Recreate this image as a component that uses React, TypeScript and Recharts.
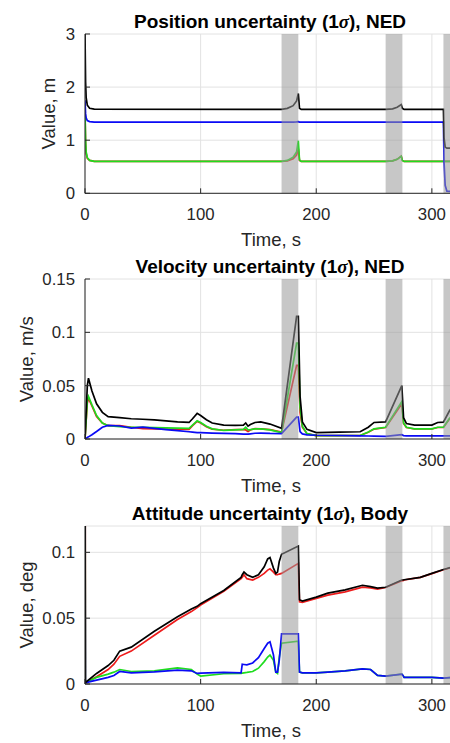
import { LineChart, Line, XAxis, YAxis, CartesianGrid, ReferenceArea } from "recharts";

const FONT = "'Liberation Sans', Arial, Helvetica, sans-serif";
const AXIS = "#262626";

// time ticks shared by all panels
const timeTicks = [0, 100, 200, 300];
// sensor outage windows (gray patches), seconds
const outages = [
    [170, 184.5],
    [260, 274.5],
    [310, 320],
];

// ---- position (m) ----
const posTime = [0, 0.5, 1, 2, 4, 8, 170, 175, 180, 183, 184.5, 185.5, 187, 260, 266, 270, 273.5, 274.5, 276, 310, 310.5, 311.5, 313, 320];
const posNorm = [3.0, 2.1, 1.8, 1.66, 1.6, 1.585, 1.58, 1.6, 1.65, 1.74, 1.88, 1.6, 1.58, 1.58, 1.59, 1.62, 1.67, 1.6, 1.58, 1.58, 1.05, 0.87, 0.85, 0.85];
const posN = [1.5, 0.95, 0.75, 0.66, 0.62, 0.6, 0.6, 0.61, 0.65, 0.72, 0.84, 0.62, 0.6, 0.6, 0.61, 0.64, 0.7, 0.62, 0.6, 0.6, 0.6, 0.6, 0.6, 0.6];
const posE = [1.55, 1.0, 0.78, 0.67, 0.62, 0.6, 0.6, 0.62, 0.68, 0.78, 0.99, 0.63, 0.6, 0.6, 0.61, 0.64, 0.7, 0.62, 0.6, 0.6, 0.6, 0.6, 0.6, 0.6];
const posD = [1.75, 1.5, 1.42, 1.37, 1.35, 1.34, 1.34, 1.34, 1.34, 1.345, 1.35, 1.34, 1.34, 1.34, 1.34, 1.34, 1.34, 1.34, 1.34, 1.34, 0.6, 0.15, 0.04, 0.03];
const posTicks = [0, 1, 2, 3];

// ---- velocity (m/s) ----
const velTime = [0, 2, 3, 6, 10, 15, 20, 30, 40, 50, 60, 70, 80, 90, 93, 97, 100, 105, 110, 120, 130, 137, 139, 141, 143, 147, 152, 160, 170, 183, 184.5, 186, 188, 192, 200, 220, 238, 245, 250, 260, 274, 275.5, 278, 285, 300, 305, 310, 315, 320];
const velNorm = [0, 0.05, 0.057, 0.045, 0.033, 0.025, 0.021, 0.02, 0.019, 0.0185, 0.018, 0.017, 0.016, 0.0155, 0.019, 0.024, 0.022, 0.018, 0.015, 0.013, 0.0128, 0.013, 0.015, 0.012, 0.0135, 0.0155, 0.016, 0.014, 0.01, 0.115, 0.115, 0.04, 0.016, 0.009, 0.006, 0.0065, 0.0068, 0.011, 0.0155, 0.016, 0.05, 0.02, 0.0145, 0.013, 0.013, 0.0155, 0.0158, 0.026, 0.034];
const velN = [0, 0.034, 0.038, 0.031, 0.021, 0.015, 0.0125, 0.0125, 0.011, 0.0098, 0.0095, 0.0093, 0.0092, 0.009, 0.0125, 0.0165, 0.015, 0.0115, 0.0092, 0.0082, 0.0088, 0.0088, 0.0085, 0.007, 0.0085, 0.0098, 0.0095, 0.0088, 0.0065, 0.069, 0.069, 0.025, 0.011, 0.005, 0.0032, 0.0032, 0.0033, 0.0063, 0.0093, 0.0108, 0.033, 0.0145, 0.0108, 0.0094, 0.0094, 0.0108, 0.0108, 0.0185, 0.023];
const velE = [0, 0.036, 0.04, 0.032, 0.022, 0.015, 0.0125, 0.0115, 0.011, 0.011, 0.0108, 0.0105, 0.0102, 0.01, 0.013, 0.017, 0.0155, 0.012, 0.0095, 0.008, 0.0085, 0.009, 0.011, 0.0085, 0.0088, 0.0095, 0.0095, 0.0085, 0.006, 0.09, 0.09, 0.03, 0.012, 0.005, 0.0032, 0.0032, 0.0033, 0.0065, 0.0095, 0.011, 0.035, 0.015, 0.011, 0.0095, 0.0095, 0.011, 0.011, 0.019, 0.024];
const velD = [0, 0.0015, 0.002, 0.004, 0.007, 0.011, 0.0128, 0.0122, 0.0102, 0.0112, 0.01, 0.0088, 0.0078, 0.0068, 0.0065, 0.006, 0.006, 0.0058, 0.0056, 0.0053, 0.005, 0.0045, 0.0045, 0.0045, 0.0048, 0.0054, 0.0056, 0.0052, 0.005, 0.0205, 0.0205, 0.007, 0.0048, 0.0038, 0.0035, 0.0033, 0.003, 0.0028, 0.0027, 0.0025, 0.004, 0.0032, 0.003, 0.003, 0.003, 0.003, 0.003, 0.003, 0.003];
const velTicks = [0, 0.05, 0.1, 0.15];

// ---- attitude (deg) ----
const attTime = [0, 0.3, 10, 20, 25, 30, 40, 60, 80, 92, 97, 100, 120, 135, 136, 137.5, 140, 145, 150, 155, 158, 160, 163, 165, 166.5, 168, 170, 184.5, 185.5, 188, 200, 210, 225, 240, 247, 253, 260, 274, 275, 276, 290, 300, 310, 320];
const attNorm = [0.35, 0.001, 0.008, 0.014, 0.018, 0.025, 0.028, 0.04, 0.051, 0.057, 0.059, 0.061, 0.071, 0.081, 0.083, 0.085, 0.083, 0.081, 0.083, 0.089, 0.095, 0.096, 0.088, 0.084, 0.085, 0.093, 0.0985, 0.1048, 0.064, 0.063, 0.066, 0.069, 0.0715, 0.075, 0.074, 0.0728, 0.0735, 0.079, 0.079, 0.0792, 0.081, 0.084, 0.087, 0.0895];
const attX = [0.3, 0.001, 0.0055, 0.011, 0.015, 0.021, 0.025, 0.037, 0.049, 0.055, 0.058, 0.06, 0.0705, 0.08, 0.081, 0.083, 0.08, 0.079, 0.081, 0.084, 0.0865, 0.0875, 0.085, 0.083, 0.083, 0.0835, 0.084, 0.0916, 0.0625, 0.062, 0.065, 0.0675, 0.07, 0.0735, 0.073, 0.072, 0.0733, 0.0785, 0.0785, 0.079, 0.081, 0.0838, 0.0868, 0.0893];
const attY = [0.2, 0.001, 0.005, 0.0075, 0.009, 0.011, 0.0095, 0.01, 0.0122, 0.011, 0.0075, 0.006, 0.0078, 0.008, 0.0082, 0.0085, 0.0088, 0.0095, 0.012, 0.017, 0.0205, 0.022, 0.018, 0.009, 0.008, 0.02, 0.031, 0.0325, 0.009, 0.0085, 0.0085, 0.009, 0.01, 0.0115, 0.011, 0.0065, 0.006, 0.0075, 0.0065, 0.005, 0.005, 0.005, 0.0045, 0.005];
const attZ = [0.15, 0.001, 0.003, 0.005, 0.0065, 0.0095, 0.0085, 0.0092, 0.0105, 0.01, 0.008, 0.0082, 0.0088, 0.0085, 0.015, 0.0148, 0.0145, 0.016, 0.02, 0.027, 0.031, 0.032, 0.022, 0.009, 0.009, 0.018, 0.038, 0.038, 0.009, 0.0085, 0.0085, 0.009, 0.01, 0.0115, 0.011, 0.0065, 0.006, 0.0075, 0.0065, 0.005, 0.005, 0.005, 0.0045, 0.005];
const attTicks = [0, 0.05, 0.1];

const COLORS = { a: "#ee1c1c", b: "#1fdc1f", c: "#0a0af5", norm: "#000000" };

function rows(time: number[], a: number[], b: number[], c: number[], norm: number[]) {
    return time.map((t, i) => ({ t, a: a[i], b: b[i], c: c[i], norm: norm[i] }));
}

const tickStyle = { fontSize: 16.8, fontFamily: FONT, fill: AXIS };
const PAD = 14; // room above the plot so the top tick label is not cut

interface PanelProps {
    top: number;
    plotHeight: number;
    data: any[];
    yMax: number;
    yTicks: number[];
}

function Panel({ top, plotHeight, data, yMax, yTicks }: PanelProps) {
    return (
        <div style={{ position: "absolute", left: 0, top: top - PAD }}>
            <LineChart
                width={470}
                height={plotHeight + 40 + PAD}
                data={data}
                margin={{ top: PAD, right: 15, bottom: 0, left: 0 }}
            >
                <CartesianGrid stroke="#e2e2e2" strokeWidth={1} />
                <XAxis
                    dataKey="t"
                    type="number"
                    domain={[0, 320]}
                    ticks={timeTicks}
                    allowDataOverflow
                    height={40}
                    stroke={AXIS}
                    tickSize={-5}
                    tickMargin={20}
                    tick={tickStyle}
                />
                <XAxis
                    xAxisId="top"
                    orientation="top"
                    type="number"
                    domain={[0, 320]}
                    height={0}
                    tick={false}
                    stroke={AXIS}
                />
                <YAxis
                    type="number"
                    domain={[0, yMax]}
                    ticks={yTicks}
                    allowDataOverflow
                    width={85}
                    stroke={AXIS}
                    tickSize={-5}
                    tickMargin={15}
                    tick={tickStyle}
                />
                <Line dataKey="a" stroke={COLORS.a} strokeWidth={1.7} dot={false} activeDot={false} isAnimationActive={false} />
                <Line dataKey="b" stroke={COLORS.b} strokeWidth={1.7} dot={false} activeDot={false} isAnimationActive={false} />
                <Line dataKey="c" stroke={COLORS.c} strokeWidth={1.7} dot={false} activeDot={false} isAnimationActive={false} />
                <Line dataKey="norm" stroke={COLORS.norm} strokeWidth={1.7} dot={false} activeDot={false} isAnimationActive={false} />
                {outages.map(([x1, x2]) => (
                    <ReferenceArea
                        key={x1}
                        x1={x1}
                        x2={x2}
                        fill="#999999"
                        fillOpacity={0.55}
                        stroke="none"
                        zIndex={450}
                    />
                ))}
            </LineChart>
        </div>
    );
}

function Sigma() {
    return <tspan fontFamily="'Liberation Serif', 'DejaVu Serif', serif" fontStyle="italic">σ</tspan>;
}

export default function App() {
    const plots = [
        { top: 34, h: 159.3, title: ["Position uncertainty (1", "), NED"], ylab: "Value, m", yx: 55 },
        { top: 279.3, h: 160, title: ["Velocity uncertainty (1", "), NED"], ylab: "Value, m/s", yx: 33 },
        { top: 526, h: 158, title: ["Attitude uncertainty (1", "), Body"], ylab: "Value, deg", yx: 33 },
    ];
    return (
        <div style={{ position: "absolute", left: 0, top: 0, width: 450, height: 743, overflow: "hidden", background: "#fff" }}>
            <Panel top={34} plotHeight={159.3} data={rows(posTime, posN, posE, posD, posNorm)} yMax={3} yTicks={posTicks} />
            <Panel top={279.3} plotHeight={160} data={rows(velTime, velN, velE, velD, velNorm)} yMax={0.15} yTicks={velTicks} />
            <Panel top={526} plotHeight={158} data={rows(attTime, attX, attY, attZ, attNorm)} yMax={0.12} yTicks={attTicks} />
            <svg width={450} height={743} style={{ position: "absolute", left: 0, top: 0, pointerEvents: "none" }}>
                {plots.map((p) => (
                    <g key={p.ylab}>
                        <text x={270} y={p.top - 6.5} textAnchor="middle" fontFamily={FONT} fontWeight="bold" fontSize={19} fill="#000">
                            {p.title[0]}
                            <Sigma />
                            {p.title[1]}
                        </text>
                        <text x={271} y={p.top + p.h + 53} textAnchor="middle" fontFamily={FONT} fontSize={18.5} fill={AXIS}>
                            Time, s
                        </text>
                        <text
                            x={p.yx}
                            y={p.top + p.h / 2}
                            textAnchor="middle"
                            transform={`rotate(-90, ${p.yx}, ${p.top + p.h / 2})`}
                            fontFamily={FONT}
                            fontSize={18.5}
                            fill={AXIS}
                        >
                            {p.ylab}
                        </text>
                    </g>
                ))}
            </svg>
        </div>
    );
}
